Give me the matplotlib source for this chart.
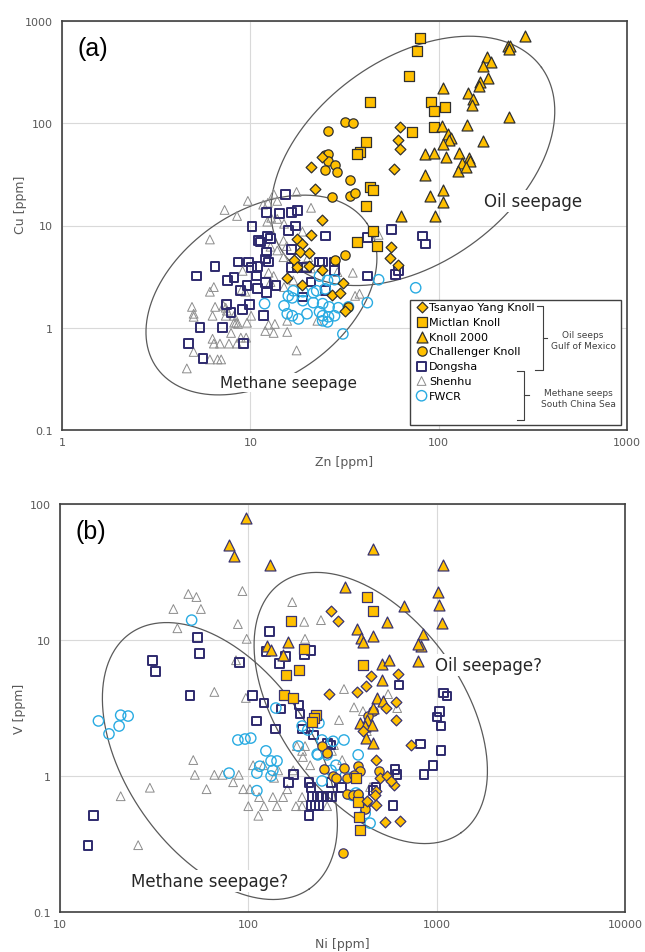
import numpy as np
import matplotlib.pyplot as plt
from matplotlib.patches import Rectangle

# ---------------- panel (a): Zn vs Cu [ppm] ----------------
tsanyao_zn = [62, 61, 62, 58, 21, 22, 24, 24, 21, 17.6, 18.7, 18.4, 20.4, 17.1, 20.6, 17.8, 24,
              15.7, 18.7, 31, 27, 30, 56, 55, 61, 32]
tsanyao_cu = [92, 69, 56, 36, 37, 23, 47, 11.4, 8.1, 7.4, 6.6, 5.5, 5.4, 4.6, 4.0, 3.9, 3.7,
              3.1, 2.6, 2.75, 2.1, 2.2, 6.2, 4.8, 4.1, 1.47]

mictlan_zn = [80, 77, 70, 43, 91, 94, 108, 94, 72, 41, 38, 37, 43, 45, 41, 45, 37, 47]
mictlan_cu = [684, 510, 290, 162, 162, 132, 145, 92, 82, 66, 52, 50, 24, 22, 15.6, 8.9, 6.9, 6.3]

knoll_zn = [287, 233, 240, 235, 180, 189, 171, 182, 165, 163, 105, 143, 152, 150, 236, 104, 141,
            112, 116, 114, 105, 171, 85, 94, 129, 110, 145, 133, 146, 126, 139, 85, 106, 90,
            106, 63, 96]
knoll_cu = [715, 570, 575, 535, 446, 398, 364, 278, 254, 232, 222, 198, 173, 151, 115, 94, 96,
            79, 72, 69, 63, 67, 50, 51, 51, 47, 46, 41, 43, 34, 37, 31, 22, 19.5,
            17, 12.4, 12.4]

challenger_zn = [32, 35, 26, 25, 26, 26, 28, 25, 29, 34, 34, 36, 27, 32, 28, 33]
challenger_cu = [103, 101, 84, 49, 50, 43, 39, 35, 33, 28, 19.5, 21, 19, 5.1, 4.6, 1.6]

dongsha_zn = [10.2, 11, 6.5, 5.2, 8.6, 9.8, 10.1, 10.9, 8.2, 7.6, 9.6, 8.9, 10.9, 7.5, 7.9, 9.9,
              9.1, 5.4, 7.1, 4.7, 9.2, 5.6, 15.4, 12.2, 14.3, 16.5, 17.8, 15.9, 17.3, 25, 42,
              11.3, 12.3, 12.8, 16.5, 12.2, 12, 12.5, 10.8, 12, 13.7, 12.2, 16.5, 17.8, 19.9,
              23.3, 24.2, 28, 28, 42, 21, 25, 19, 11.7, 56, 82, 85, 59, 61]
dongsha_cu = [9.7, 7.1, 4.0, 3.2, 4.4, 4.4, 3.9, 4.0, 3.1, 2.9, 2.6, 2.3, 2.4, 1.68, 1.4, 1.68,
              1.5, 1.0, 1.0, 0.70, 0.70, 0.50, 20, 13.3, 13, 13.3, 14, 8.9, 9.9, 7.9, 7.6,
              6.9, 7.9, 7.4, 5.8, 5.5, 4.7, 4.4, 3.2, 2.75, 2.6, 2.2, 3.9, 3.9, 3.9,
              4.4, 4.4, 4.4, 3.6, 3.2, 2.8, 2.3, 2.0, 1.31, 9.1, 7.9, 6.6, 3.3, 3.6]

shenhu_zn = [9.7, 7.3, 8.5, 6.1, 9.1, 6.4, 6.1, 4.9, 5.0, 5.0, 6.5, 6.3, 7.4, 8.2, 8.6, 10.1,
             7.9, 6.3, 6.4, 6.9, 7.7, 8.9, 9.5, 8.5, 5.0, 6.7, 7.0, 6.1, 4.6, 13.3, 17.6,
             11.7, 12.4, 13.9, 12.9, 13.9, 15.1, 12.3, 21, 18.9, 15, 15.6, 12.8, 15, 13.9,
             12.5, 13.3, 15.1, 12.8, 16.9, 9.4, 9.0, 7.2, 7.5, 7.4, 8.2, 8.4, 9.6, 12.5,
             13.5, 12, 13.3, 15.7, 15.7, 17.6, 21, 29, 35, 36, 38, 19, 20.3, 48, 22.7]
shenhu_cu = [17.4, 14.2, 12.4, 7.3, 3.6, 2.5, 2.25, 1.6, 1.37, 1.28, 1.6, 1.31, 1.57, 1.12, 1.09,
             1.31, 0.89, 0.78, 0.70, 0.70, 0.70, 0.80, 0.80, 0.70, 0.58, 0.49, 0.49, 0.49,
             0.40, 20.4, 21.3, 16, 16.7, 17.4, 11.9, 11.6, 10.4, 10.9, 14.9, 8.7, 7.1, 6.3,
             6.2, 4.9, 5.7, 3.45, 3.2, 2.5, 2.8, 2.9, 2.25, 2.35, 1.64, 1.47, 1.31, 1.31,
             1.12, 1.12, 1.07, 1.09, 0.93, 0.89, 0.91, 1.17, 0.6, 3.8, 3.5, 3.45, 2.05, 2.15,
             4.0, 4.9, 8.1, 1.17]

fwcr_zn = [23.3, 25.7, 28, 48, 16.9, 19, 22.5, 21.6, 11.9, 15.1, 15.9, 16.7, 19, 21.6, 24.2,
           26.2, 29.3, 33.2, 41.8, 15.7, 16.7, 18, 20, 23.3, 24.2, 26, 28, 24.2, 25.7, 31,
           75.5, 25]
fwcr_cu = [3.2, 2.9, 2.95, 2.95, 2.3, 2.25, 2.3, 2.2, 1.72, 1.64, 2.05, 1.96, 1.84, 1.76, 1.72,
           1.6, 1.57, 1.6, 1.76, 1.37, 1.31, 1.22, 1.37, 1.43, 1.31, 1.28, 1.31, 1.17, 1.14,
           0.87, 2.46, 2.4]

# ---------------- panel (b): Ni vs V [ppm] ----------------
tsanyao_ni = [275, 299, 268, 378, 422, 449, 624, 608, 538, 608, 406, 731, 476, 500, 546, 594,
              573, 476, 470, 476, 532, 640, 426]
tsanyao_v = [16.3, 13.8, 4.0, 4.15, 4.6, 5.4, 5.6, 3.5, 3.16, 2.58, 2.14, 1.69, 1.31, 0.97, 1.0,
             0.86, 0.92, 0.78, 0.72, 0.61, 0.46, 0.47, 0.65]

mictlan_ni = [426, 459, 169, 198, 406, 158, 186, 155, 173, 229, 223, 218, 373, 382, 387, 392]
mictlan_v = [20.7, 16.3, 13.8, 8.6, 6.5, 5.5, 6.0, 3.95, 3.75, 2.8, 2.67, 2.5, 0.97, 0.64,
             0.50, 0.40]

knoll_ni = [97, 79, 84, 130, 459, 1081, 1016, 1024, 1070, 848, 826, 800, 327, 671, 546, 378,
            396, 459, 406, 796, 126, 132, 163, 153, 513, 559, 513, 482, 519, 459, 427, 392,
            417, 454, 422, 459]
knoll_v = [79, 50, 41.5, 35.6, 46.7, 35.6, 22.5, 18.1, 13.3, 11.1, 9.0, 9.3, 24.5, 17.8, 13.6,
           12, 10.3, 10.7, 9.7, 7.0, 9.0, 8.4, 9.7, 7.8, 6.7, 7.1, 5.1, 3.75, 3.56, 3.16,
           2.6, 2.45, 2.33, 2.37, 1.9, 1.75]

challenger_ni = [459, 431, 246, 262, 252, 282, 292, 322, 334, 383, 392, 364, 494, 334, 360,
                 383, 422, 417, 318]
challenger_v = [3.0, 2.76, 1.66, 1.48, 1.13, 1.0, 0.97, 1.14, 0.97, 1.19, 1.09, 1.02, 1.09,
                0.74, 0.72, 0.74, 0.63, 0.57, 0.27]

dongsha_ni = [129, 53.5, 55, 31, 32, 90, 124, 215, 198, 146, 157, 49, 105, 121, 149, 186, 188,
              111, 140, 193, 221, 262, 272, 163, 173, 210, 275, 311, 215, 218, 232, 246, 262,
              278, 215, 226, 237, 210, 15, 14.1, 631, 817, 601, 616, 857, 476, 459, 586, 1055,
              957, 1082, 1136, 1031, 1005, 1055]
dongsha_v = [11.5, 10.5, 8.0, 7.1, 5.9, 6.8, 8.2, 8.4, 7.8, 6.7, 7.6, 3.9, 3.9, 3.44, 3.11,
             3.33, 2.86, 2.54, 2.22, 2.22, 2.0, 1.75, 1.69, 0.90, 1.02, 0.90, 0.90, 0.82, 0.82,
             0.71, 0.71, 0.71, 0.71, 0.71, 0.61, 0.61, 0.61, 0.51, 0.51, 0.31, 4.67, 1.72,
             1.11, 1.02, 1.02, 0.82, 0.78, 0.61, 1.53, 1.2, 4.07, 3.88, 3.0, 2.72, 2.33]

shenhu_ni = [48, 53, 93, 40, 56, 42, 88, 98, 86, 66, 97, 51, 30, 21, 26, 52, 60, 66, 73, 89, 83,
             94, 102, 106, 120, 114, 100, 121, 142, 135, 153, 161, 193, 193, 179, 113, 137,
             144, 173, 171, 200, 198, 243, 193, 195, 213, 322, 364, 303, 285, 278, 315, 262,
             181, 200, 552, 617, 406, 426, 443]
shenhu_v = [21.8, 20.7, 22.9, 16.9, 16.9, 12.2, 13.1, 10.2, 7.1, 4.15, 3.75, 1.31, 0.82, 0.71,
            0.31, 1.02, 0.80, 1.02, 1.02, 1.02, 0.90, 0.80, 0.80, 1.2, 1.2, 0.70, 0.60, 0.60,
            0.60, 0.70, 0.70, 0.80, 0.70, 0.60, 0.60, 0.51, 0.97, 1.1, 1.1, 19, 10.2, 13.6, 14,
            1.53, 1.38, 1.2, 4.36, 3.2, 2.58, 1.69, 1.53, 1.31, 0.60, 1.66, 1.66, 4.0, 3.16,
            3.0, 2.14, 0.83]

fwcr_ni = [50, 21, 23, 16, 20.6, 18.2, 88, 96, 103, 124, 132, 142, 135, 115, 111, 132, 79, 111,
           140, 184, 193, 207, 237, 246, 282, 322, 234, 292, 327, 246, 275, 232, 262, 383, 356,
           383, 373, 417, 443]
fwcr_v = [14, 2.8, 2.76, 2.54, 2.33, 2.04, 1.84, 1.87, 1.9, 1.53, 1.29, 1.29, 1.1, 1.18, 1.05,
          1.0, 1.05, 0.78, 3.16, 1.66, 2.33, 2.18, 2.45, 1.84, 1.8, 1.84, 1.43, 1.2, 1.0, 0.92,
          1.1, 1.45, 1.43, 1.43, 0.72, 0.72, 0.75, 0.53, 0.45]

labels = ['Tsanyao Yang Knoll', 'Mictlan Knoll', 'Knoll 2000', 'Challenger Knoll',
          'Dongsha', 'Shenhu', 'FWCR']

ORANGE = '#FFC000'
NAVY = '#2E2A6E'
GREY = '#8C8C8C'
BLUE = '#29ABE2'
TXT = '#595959'

W, H = 645, 953
fig = plt.figure(figsize=(W / 100, H / 100), dpi=100)
ax1 = fig.add_axes([62 / W, 1 - 431 / H, 565 / W, 409 / H])
ax2 = fig.add_axes([60 / W, 1 - 913 / H, 565 / W, 408 / H])


def fx(px):
    return px / W


def fy(py):
    return 1 - py / H


def draw_ellipse(ax, cx, cy, a, b, ang):
    # centre in axes fraction, semi-axes in pixels, angle in degrees
    bb = ax.get_position()
    w, h = bb.width * W, bb.height * H
    t = np.linspace(0, 2 * np.pi, 400)
    th = np.radians(ang)
    dx = a * np.cos(t) * np.cos(th) - b * np.sin(t) * np.sin(th)
    dy = a * np.cos(t) * np.sin(th) + b * np.sin(t) * np.cos(th)
    ax.plot(cx + dx / w, cy + dy / h, transform=ax.transAxes, color='#5a5a5a', lw=0.9,
            zorder=1.5)


def setup(ax, xlim, ylim, xticks, yticks, xlabel, ylabel):
    ax.set_xscale('log')
    ax.set_yscale('log')
    ax.set_xlim(*xlim)
    ax.set_ylim(*ylim)
    ax.set_xticks(xticks)
    ax.set_xticklabels([f'{v:g}' for v in xticks])
    ax.set_yticks(yticks)
    ax.set_yticklabels([f'{v:g}' for v in yticks])
    ax.minorticks_off()
    ax.tick_params(length=0, labelsize=8, labelcolor=TXT)
    ax.tick_params(axis='y', pad=6.5)
    ax.tick_params(axis='x', pad=5)
    ax.grid(True, color='#d9d9d9', lw=0.8)
    ax.set_axisbelow(True)
    for s in ax.spines.values():
        s.set_color('#404040')
        s.set_linewidth(1.2)
    ax.set_xlabel(xlabel, fontsize=9, color=TXT, labelpad=6)
    ax.set_ylabel(ylabel, fontsize=9, color=TXT)


def plot_all(ax, data, edge_orange):
    (ty_x, ty_y), (mi_x, mi_y), (kn_x, kn_y), (ch_x, ch_y), (do_x, do_y), (sh_x, sh_y), (fw_x, fw_y) = data
    h_sh = ax.scatter(sh_x, sh_y, marker='^', s=40, facecolors='none', edgecolors=GREY,
                      linewidths=0.7, zorder=2)
    h_do = ax.scatter(do_x, do_y, marker='s', s=40, facecolors='none', edgecolors=NAVY,
                      linewidths=1.4, zorder=2.1)
    h_fw = ax.scatter(fw_x, fw_y, marker='o', s=55, facecolors='none', edgecolors=BLUE,
                      linewidths=1.0, zorder=2.2)
    h_ch = ax.scatter(ch_x, ch_y, marker='o', s=45, facecolors=ORANGE, edgecolors=edge_orange,
                      linewidths=0.9, zorder=3)
    h_mi = ax.scatter(mi_x, mi_y, marker='s', s=42, facecolors=ORANGE, edgecolors=edge_orange,
                      linewidths=0.9, zorder=3.1)
    h_kn = ax.scatter(kn_x, kn_y, marker='^', s=62, facecolors=ORANGE, edgecolors=edge_orange,
                      linewidths=0.9, zorder=3.2)
    h_ty = ax.scatter(ty_x, ty_y, marker='D', s=30, facecolors=ORANGE, edgecolors=edge_orange,
                      linewidths=0.9, zorder=3.3)
    return [h_ty, h_mi, h_kn, h_ch, h_do, h_sh, h_fw]


handles = plot_all(ax1, [(tsanyao_zn, tsanyao_cu), (mictlan_zn, mictlan_cu),
                         (knoll_zn, knoll_cu), (challenger_zn, challenger_cu),
                         (dongsha_zn, dongsha_cu), (shenhu_zn, shenhu_cu), (fwcr_zn, fwcr_cu)],
                   '#303030')
plot_all(ax2, [(tsanyao_ni, tsanyao_v), (mictlan_ni, mictlan_v), (knoll_ni, knoll_v),
               (challenger_ni, challenger_v), (dongsha_ni, dongsha_v), (shenhu_ni, shenhu_v),
               (fwcr_ni, fwcr_v)], '#3A3470')

setup(ax1, (1, 1000), (0.1, 1000), [1, 10, 100, 1000], [0.1, 1, 10, 100, 1000],
      'Zn [ppm]', 'Cu [ppm]')
setup(ax2, (10, 10000), (0.1, 100), [10, 100, 1000, 10000], [0.1, 1, 10, 100],
      'Ni [ppm]', 'V [ppm]')
ax1.yaxis.set_label_coords(-0.062, 0.553)
ax2.yaxis.set_label_coords(-0.060, 0.5)

# field ellipses
draw_ellipse(ax1, 0.621, 0.658, 159, 102, 36)
draw_ellipse(ax1, 0.353, 0.330, 127.5, 84, 34.3)
draw_ellipse(ax2, 0.550, 0.500, 154, 91, -54)
draw_ellipse(ax2, 0.283, 0.370, 156, 93, -55)

box = dict(facecolor='white', edgecolor='none', pad=1.5)
ax1.text(0.834, 0.560, 'Oil seepage', transform=ax1.transAxes, fontsize=12, color='#262626',
         ha='center', va='center', bbox=box, zorder=4)
ax1.text(0.400, 0.117, 'Methane seepage', transform=ax1.transAxes, fontsize=11,
         color='#262626', ha='center', va='center', bbox=box, zorder=4)
ax2.text(0.759, 0.605, 'Oil seepage?', transform=ax2.transAxes, fontsize=12, color='#262626',
         ha='center', va='center', bbox=box, zorder=4)
ax2.text(0.265, 0.076, 'Methane seepage?', transform=ax2.transAxes, fontsize=12,
         color='#262626', ha='center', va='center', bbox=box, zorder=4)

ax1.text(0.027, 0.935, '(a)', transform=ax1.transAxes, fontsize=18, family='Liberation Sans',
         va='center')
ax2.text(0.027, 0.935, '(b)', transform=ax2.transAxes, fontsize=18, family='Liberation Sans',
         va='center')

# legend with brackets
ax1.add_patch(Rectangle((fx(410), fy(426)), fx(621) - fx(410), fy(301) - fy(426),
                        transform=fig.transFigure, facecolor='white', edgecolor='#404040',
                        lw=1.0, zorder=4.5, clip_on=False))
leg = ax1.legend(handles, labels, loc='upper left', bbox_to_anchor=(fx(416), fy(303)),
                 bbox_transform=fig.transFigure, frameon=False, fontsize=8, scatterpoints=1,
                 handlelength=1.0, handletextpad=0.15, labelspacing=0.43, borderpad=0,
                 borderaxespad=0)
leg.set_zorder(5)

bk = dict(color='#404040', lw=0.8, transform=fig.transFigure, zorder=6, clip_on=False)
ax1.plot([fx(537), fx(543), fx(543), fx(535)], [fy(307), fy(307), fy(371), fy(371)], **bk)
ax1.plot([fx(543), fx(547)], [fy(339), fy(339)], **bk)
ax1.plot([fx(517), fx(524), fx(524), fx(517)], [fy(372), fy(372), fy(421), fy(421)], **bk)
ax1.plot([fx(524), fx(529)], [fy(396), fy(396)], **bk)
ax1.text(fx(583), fy(341), 'Oil seeps\nGulf of Mexico', transform=fig.transFigure,
         fontsize=6.5, color='#404040', ha='center', va='center', zorder=6)
ax1.text(fx(578), fy(399), 'Methane seeps\nSouth China Sea', transform=fig.transFigure,
         fontsize=6.5, color='#404040', ha='center', va='center', zorder=6)

fig.savefig('out.png', dpi=100)
